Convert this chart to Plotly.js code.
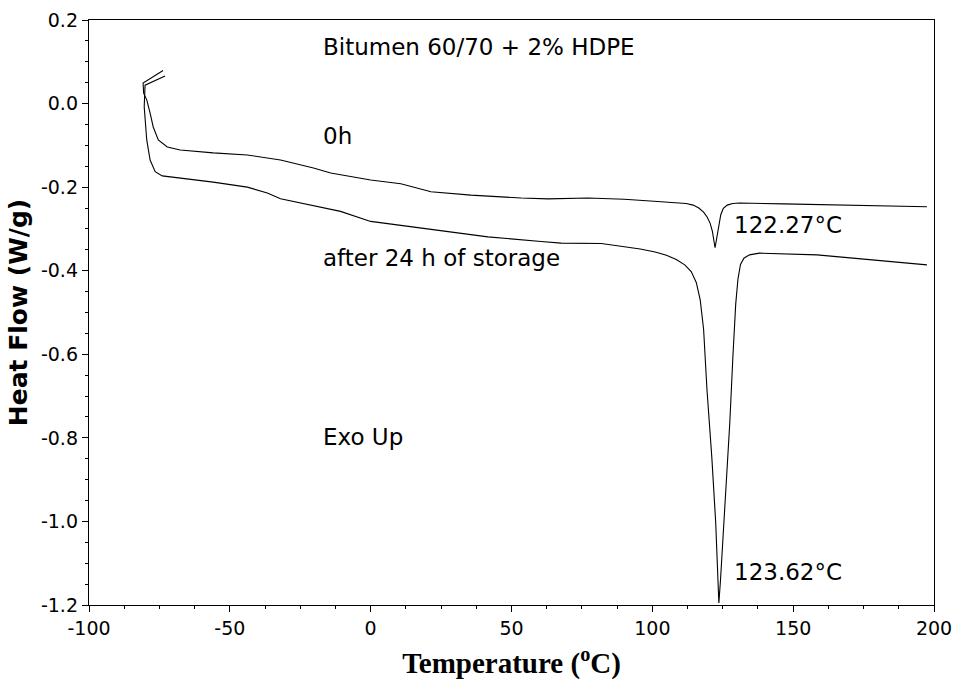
<!DOCTYPE html>
<html>
<head>
<meta charset="utf-8">
<script src="https://cdn.plot.ly/plotly-3.0.1.min.js"></script>
<style>html,body{margin:0;padding:0;background:#fff;}#chart{width:954px;height:685px;}</style>
</head>
<body>
<div id="chart"></div>
<script>
// 0 h curve
var x0h = [-73.7, -80.8, -80.6, -79.5, -78.3, -77.2, -75.4, -72.2, -67.6, -55.9, -43.8, -32, -20.3, -14.2, 0, 10.7, 21.4, 35.6, 53.4, 63, 77.2, 90, 99.3, 108, 112, 114.5, 116.5, 118.2, 119.5, 120.5, 121.3, 122.27, 123.0, 123.6, 124.3, 125.2, 126.6, 128.5, 131, 146.5, 170, 197.5];
var y0h = [0.079, 0.049, 0.025, 0.009, -0.023, -0.056, -0.087, -0.104, -0.111, -0.118, -0.123, -0.135, -0.154, -0.166, -0.183, -0.192, -0.211, -0.219, -0.226, -0.228, -0.226, -0.229, -0.233, -0.236, -0.239, -0.243, -0.250, -0.260, -0.272, -0.286, -0.305, -0.345, -0.315, -0.290, -0.266, -0.251, -0.243, -0.239, -0.238, -0.240, -0.243, -0.247];
// after 24 h of storage curve
var x24h = [-73.0, -80.1, -80.4, -79.5, -78.3, -76.5, -74, -67.6, -55.9, -43.8, -36.7, -32, -24.9, -10.7, 0, 21.4, 41.6, 60.5, 67.6, 81.9, 95.7, 101, 105, 108.5, 111.5, 113.8, 115.6, 117.0, 118.2, 119.4, 121.1, 122.5, 123.3, 123.62, 124.2, 124.7, 126.1, 127.5, 128.6, 129.6, 130.4, 131.3, 132.5, 134.5, 138, 158.5, 197.5];
var y24h = [0.066, 0.044, -0.008, -0.087, -0.135, -0.163, -0.173, -0.178, -0.188, -0.200, -0.214, -0.228, -0.238, -0.258, -0.282, -0.301, -0.319, -0.330, -0.334, -0.335, -0.348, -0.355, -0.363, -0.373, -0.386, -0.402, -0.428, -0.470, -0.540, -0.685, -0.845, -1.003, -1.123, -1.195, -1.140, -1.085, -0.924, -0.764, -0.606, -0.480, -0.420, -0.385, -0.370, -0.362, -0.358, -0.362, -0.386];

var xTickVals = [-100, -50, 0, 50, 100, 150, 200];
var xTickText = ["-100", "-50", "0", "50", "100", "150", "200"];
var yTickVals = [0.2, 0.0, -0.2, -0.4, -0.6, -0.8, -1.0, -1.2];
var yTickText = ["0.2", "0.0", "-0.2", "-0.4", "-0.6", "-0.8", "-1.0", "-1.2"];

var labelTexts = ["Bitumen 60/70 + 2% HDPE", "0h", "after 24 h of storage", "Exo Up", "122.27°C", "123.62°C"];
var labelX = [-17.8, -17.8, -17.8, -17.8, 128.3, 128.3];
var labelY = [0.135, -0.078, -0.369, -0.798, -0.290, -1.120];

var lineStyle = {color: '#000', width: 1.1};
var traces = [
  {x: x0h, y: y0h, mode: 'lines', line: lineStyle, name: '0h', hoverinfo: 'skip'},
  {x: x24h, y: y24h, mode: 'lines', line: lineStyle, name: '24h', hoverinfo: 'skip'}
];

var annotations = labelTexts.map(function(t, i) {
  return {x: labelX[i], y: labelY[i], xref: 'x', yref: 'y', text: t, showarrow: false,
          xanchor: 'left', yanchor: 'middle',
          font: {family: 'DejaVu Sans, Arial, sans-serif', size: 23, color: '#000'}};
});

var layout = {
  width: 954, height: 685,
  margin: {l: 89, r: 20, t: 20, b: 80},
  paper_bgcolor: '#fff', plot_bgcolor: '#fff',
  showlegend: false,
  xaxis: {
    range: [-100, 200], tickmode: 'array', tickvals: xTickVals, ticktext: xTickText,
    showline: true, linecolor: '#000', linewidth: 1.2, mirror: true,
    ticks: 'outside', ticklen: 6, tickcolor: '#000', showgrid: false, zeroline: false,
    minor: {tickmode: 'linear', tick0: -100, dtick: 12.5, ticks: 'outside', ticklen: 3, tickcolor: '#000', showgrid: false},
    tickfont: {family: 'DejaVu Sans, Arial, sans-serif', size: 19, color: '#000'},
    title: {text: 'Temperature (<sup>o</sup>C)', standoff: 14,
            font: {family: 'Liberation Serif, Times New Roman, serif', size: 29, color: '#000', weight: 'bold'}}
  },
  yaxis: {
    range: [-1.2, 0.2], tickmode: 'array', tickvals: yTickVals, ticktext: yTickText,
    showline: true, linecolor: '#000', linewidth: 1.2, mirror: true,
    ticks: 'outside', ticklen: 6, tickcolor: '#000', showgrid: false, zeroline: false,
    minor: {tickmode: 'linear', tick0: 0, dtick: 0.05, ticks: 'outside', ticklen: 3, tickcolor: '#000', showgrid: false},
    tickfont: {family: 'DejaVu Sans, Arial, sans-serif', size: 19, color: '#000'},
    title: {text: 'Heat Flow (W/g)', standoff: 6,
            font: {family: 'DejaVu Sans, Arial, sans-serif', size: 25, color: '#000', weight: 'bold'}}
  },
  annotations: annotations
};

Plotly.newPlot('chart', traces, layout, {staticPlot: true, displayModeBar: false});
</script>
</body>
</html>
